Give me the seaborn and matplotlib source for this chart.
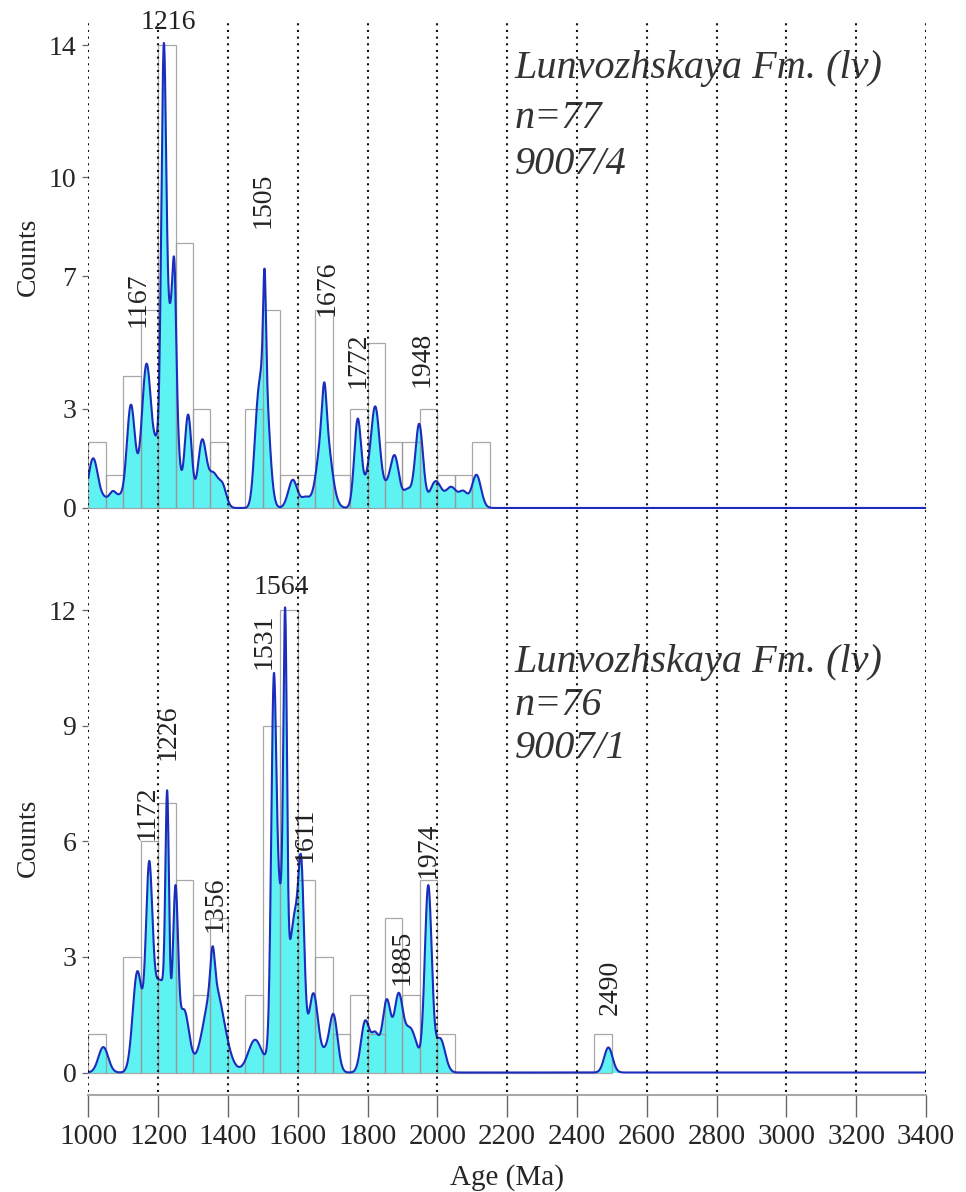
import numpy as np
import pandas as pd
import matplotlib
matplotlib.use("Agg")
import matplotlib.pyplot as plt
import seaborn as sns

# ---------------- data ----------------
# Histogram counts, 50 Ma bins (left edge of each bin)
top_bin_start = [1000, 1050, 1100, 1150, 1200, 1250, 1300, 1350, 1400, 1450, 1500, 1550,
                 1600, 1650, 1700, 1750, 1800, 1850, 1900, 1950, 2000, 2050, 2100]
top_counts = [2, 1, 4, 6, 14, 8, 3, 2, 0, 3, 6, 1,
              1, 6, 1, 3, 5, 2, 2, 3, 1, 1, 2]

bot_bin_start = [1000, 1050, 1100, 1150, 1200, 1250, 1300, 1350, 1400, 1450, 1500, 1550,
                 1600, 1650, 1700, 1750, 1800, 1850, 1900, 1950, 2000, 2050, 2100, 2150,
                 2200, 2250, 2300, 2350, 2400, 2450]
bot_counts = [1, 0, 3, 6, 7, 5, 2, 4, 0, 2, 9, 12,
              5, 3, 1, 2, 1, 4, 2, 5, 1, 0, 0, 0,
              0, 0, 0, 0, 0, 1]

# Probability-density components (age Ma, amplitude in counts, sigma Ma)
top_comp_age = [1014, 1045, 1071, 1092, 1122, 1167, 1198, 1216, 1238, 1247,
                1286, 1326, 1358, 1385, 1484, 1505, 1505, 1586, 1622, 1676,
                1676, 1772, 1797, 1822, 1855, 1878, 1915, 1948, 1995, 2040,
                2075, 2112]
top_comp_amp = [1.5, 0.2, 0.5, 0.2, 3.1, 4.35, 1.5, 12.0, 5.9, 2.6,
                2.8, 2.0, 1.0, 0.6, 2.15, 3.0, 4.0, 0.85, 0.3, 1.2,
                2.6, 2.68, 0.5, 3.04, 0.5, 1.5, 0.55, 2.5, 0.8, 0.62,
                0.45, 1.0]
top_comp_sig = [14, 10, 12, 8, 12, 14, 10, 7, 14, 5,
                10, 12, 14, 11, 10, 4, 13, 13, 12, 6,
                18, 10, 10, 13, 12, 12, 14, 11, 16, 16,
                12, 13]

bot_comp_age = [1043, 1140, 1174, 1205, 1226, 1250, 1275, 1356, 1360, 1478,
                1531, 1548, 1564, 1592, 1611, 1645, 1678, 1702, 1793, 1822,
                1855, 1888, 1922, 1974, 2008, 2490]
bot_comp_amp = [0.66, 2.46, 4.1, 2.4, 5.5, 3.9, 1.5, 1.0, 2.3, 0.85,
                7.7, 4.5, 8.66, 3.9, 3.65, 2.05, 0.35, 1.5, 1.3, 0.95,
                1.84, 1.75, 1.14, 4.78, 0.88, 0.65]
bot_comp_sig = [14, 13, 9, 28, 5, 7, 14, 6, 28, 20,
                7, 16, 5, 15, 8, 14, 10, 12, 12, 12,
                12, 12, 20, 10, 14, 12]

# Peak labels (age, label position in data units, rotation)
top_peaks = [1216, 1167, 1505, 1676, 1772, 1948]
top_peak_x = [1228, 1143, 1500, 1683, 1773, 1955]
top_peak_y = [14.67, 6.3, 9.3, 6.65, 4.48, 4.48]
top_peak_rot = [0, 90, 90, 90, 90, 90]

bot_peaks = [1564, 1531, 1226, 1172, 1356, 1611, 1885, 1974, 2490]
bot_peak_x = [1554, 1503, 1228, 1168, 1363, 1620, 1898, 1973, 2495]
bot_peak_y = [12.6, 11.2, 8.83, 6.75, 4.36, 6.18, 2.99, 5.77, 2.2]
bot_peak_rot = [0, 90, 90, 90, 90, 90, 90, 90, 90]

top_info = ["Lunvozhskaya Fm. (lv)", "n=77", "9007/4"]
bot_info = ["Lunvozhskaya Fm. (lv)", "n=76", "9007/1"]

top_yticks = [0, 3, 7, 10, 14]
bot_yticks = [0, 3, 6, 9, 12]
x_ticks = list(range(1000, 3401, 200))

# ---------------- style ----------------
sns.set_theme(style="white")
plt.rcParams["font.family"] = ["Liberation Serif", "DejaVu Serif"]
plt.rcParams["axes.unicode_minus"] = False

FILL = "#5ef2f2"
LINE = "#1c2cbc"
EDGE = "#999999"

W, H = 966, 1192
fig = plt.figure(figsize=(W / 100, H / 100), dpi=100)

x_left_px, x_right_px = 88.3, 926.0


def fig_rect(top_px, bottom_px):
    return [x_left_px / W, 1 - bottom_px / H, (x_right_px - x_left_px) / W,
            (bottom_px - top_px) / H]


ax_top = fig.add_axes(fig_rect(20.2, 524.5))
ax_bot = fig.add_axes(fig_rect(591.0, 1091.0))

grid = np.linspace(1000, 3400, 4801)


def density(ages, amps, sigs):
    y = np.zeros_like(grid)
    for a, h, s in zip(ages, amps, sigs):
        y += h * np.exp(-0.5 * ((grid - a) / s) ** 2)
    return y


def draw_panel(ax, starts, counts, ages, amps, sigs, ylim, yticks,
               peaks, px, py, prot, info, info_y):
    starts = np.asarray(starts)
    edges = [float(e) for e in np.append(starts, starts[-1] + 50)]
    df = pd.DataFrame({"age": starts + 25, "n": counts})
    curve = density(ages, amps, sigs)

    ax.fill_between(grid, 0, curve, color=FILL, linewidth=0, zorder=2)
    sns.histplot(data=df, x="age", weights="n", bins=edges, fill=False,
                 element="bars", color=EDGE, linewidth=0.9, ax=ax)
    for p in ax.patches:
        p.set_zorder(3)
        p.set_alpha(0.85)
    sns.lineplot(x=grid, y=curve, color=LINE, linewidth=1.5, estimator=None,
                 ax=ax, zorder=4)

    ax.set_xlim(1000, 3400)
    ax.set_ylim(*ylim)
    ax.set_yticks(yticks)
    ax.set_yticklabels([str(t) for t in yticks])
    ax.tick_params(axis="y", direction="out", length=4.5, width=0.9,
                   color="#666666", pad=4, labelsize=20, left=True)
    ax.set_xlabel("")
    ax.set_ylabel("Counts", fontsize=20)
    for s in ["top", "right", "left"]:
        ax.spines[s].set_visible(False)
    ax.patch.set_alpha(0)

    for lab, x, y, r in zip(peaks, px, py, prot):
        ax.text(x, y, str(lab), rotation=r, ha="center", va="center",
                fontsize=20, color="#222222", zorder=6)

    for line, y in zip(info, info_y):
        ax.text(2222, y, line, fontsize=29, style="italic", color="#333333",
                ha="left", va="baseline", zorder=6)


draw_panel(ax_top, top_bin_start, top_counts, top_comp_age, top_comp_amp, top_comp_sig,
           (-0.5, 14.75), top_yticks, top_peaks, top_peak_x, top_peak_y, top_peak_rot,
           top_info, [13.0, 11.5, 10.1])
draw_panel(ax_bot, bot_bin_start, bot_counts, bot_comp_age, bot_comp_amp, bot_comp_sig,
           (-0.48, 12.5), bot_yticks, bot_peaks, bot_peak_x, bot_peak_y, bot_peak_rot,
           bot_info, [10.39, 9.27, 8.16])

# top panel: no x axis
ax_top.spines["bottom"].set_visible(False)
ax_top.set_xticks([])
ax_top.yaxis.set_label_coords(-0.057, 0.53)

# bottom panel: detached age axis
ax_bot.set_xticks(x_ticks)
ax_bot.set_xticklabels([str(t) for t in x_ticks])
ax_bot.spines["bottom"].set_position(("outward", 3))
ax_bot.spines["bottom"].set_color("#a8a8a8")
ax_bot.spines["bottom"].set_linewidth(1.5)
ax_bot.tick_params(axis="x", direction="out", length=16, width=1.0,
                   color="#666666", pad=5, labelsize=21, bottom=True)
ax_bot.set_xlabel("Age (Ma)", fontsize=21, labelpad=10)
ax_bot.yaxis.set_label_coords(-0.057, 0.506)

# dotted age grid running through both panels
ax_grid = fig.add_axes(fig_rect(22, 1092))
ax_grid.set_xlim(1000, 3400)
ax_grid.set_ylim(0, 1)
ax_grid.axis("off")
ax_grid.patch.set_alpha(0)
ax_grid.set_zorder(5)
for v in x_ticks:
    ax_grid.axvline(v, color="#111111", linestyle=(0, (1.0, 2.2)), linewidth=1.5)

fig.savefig("out.png", dpi=100)
